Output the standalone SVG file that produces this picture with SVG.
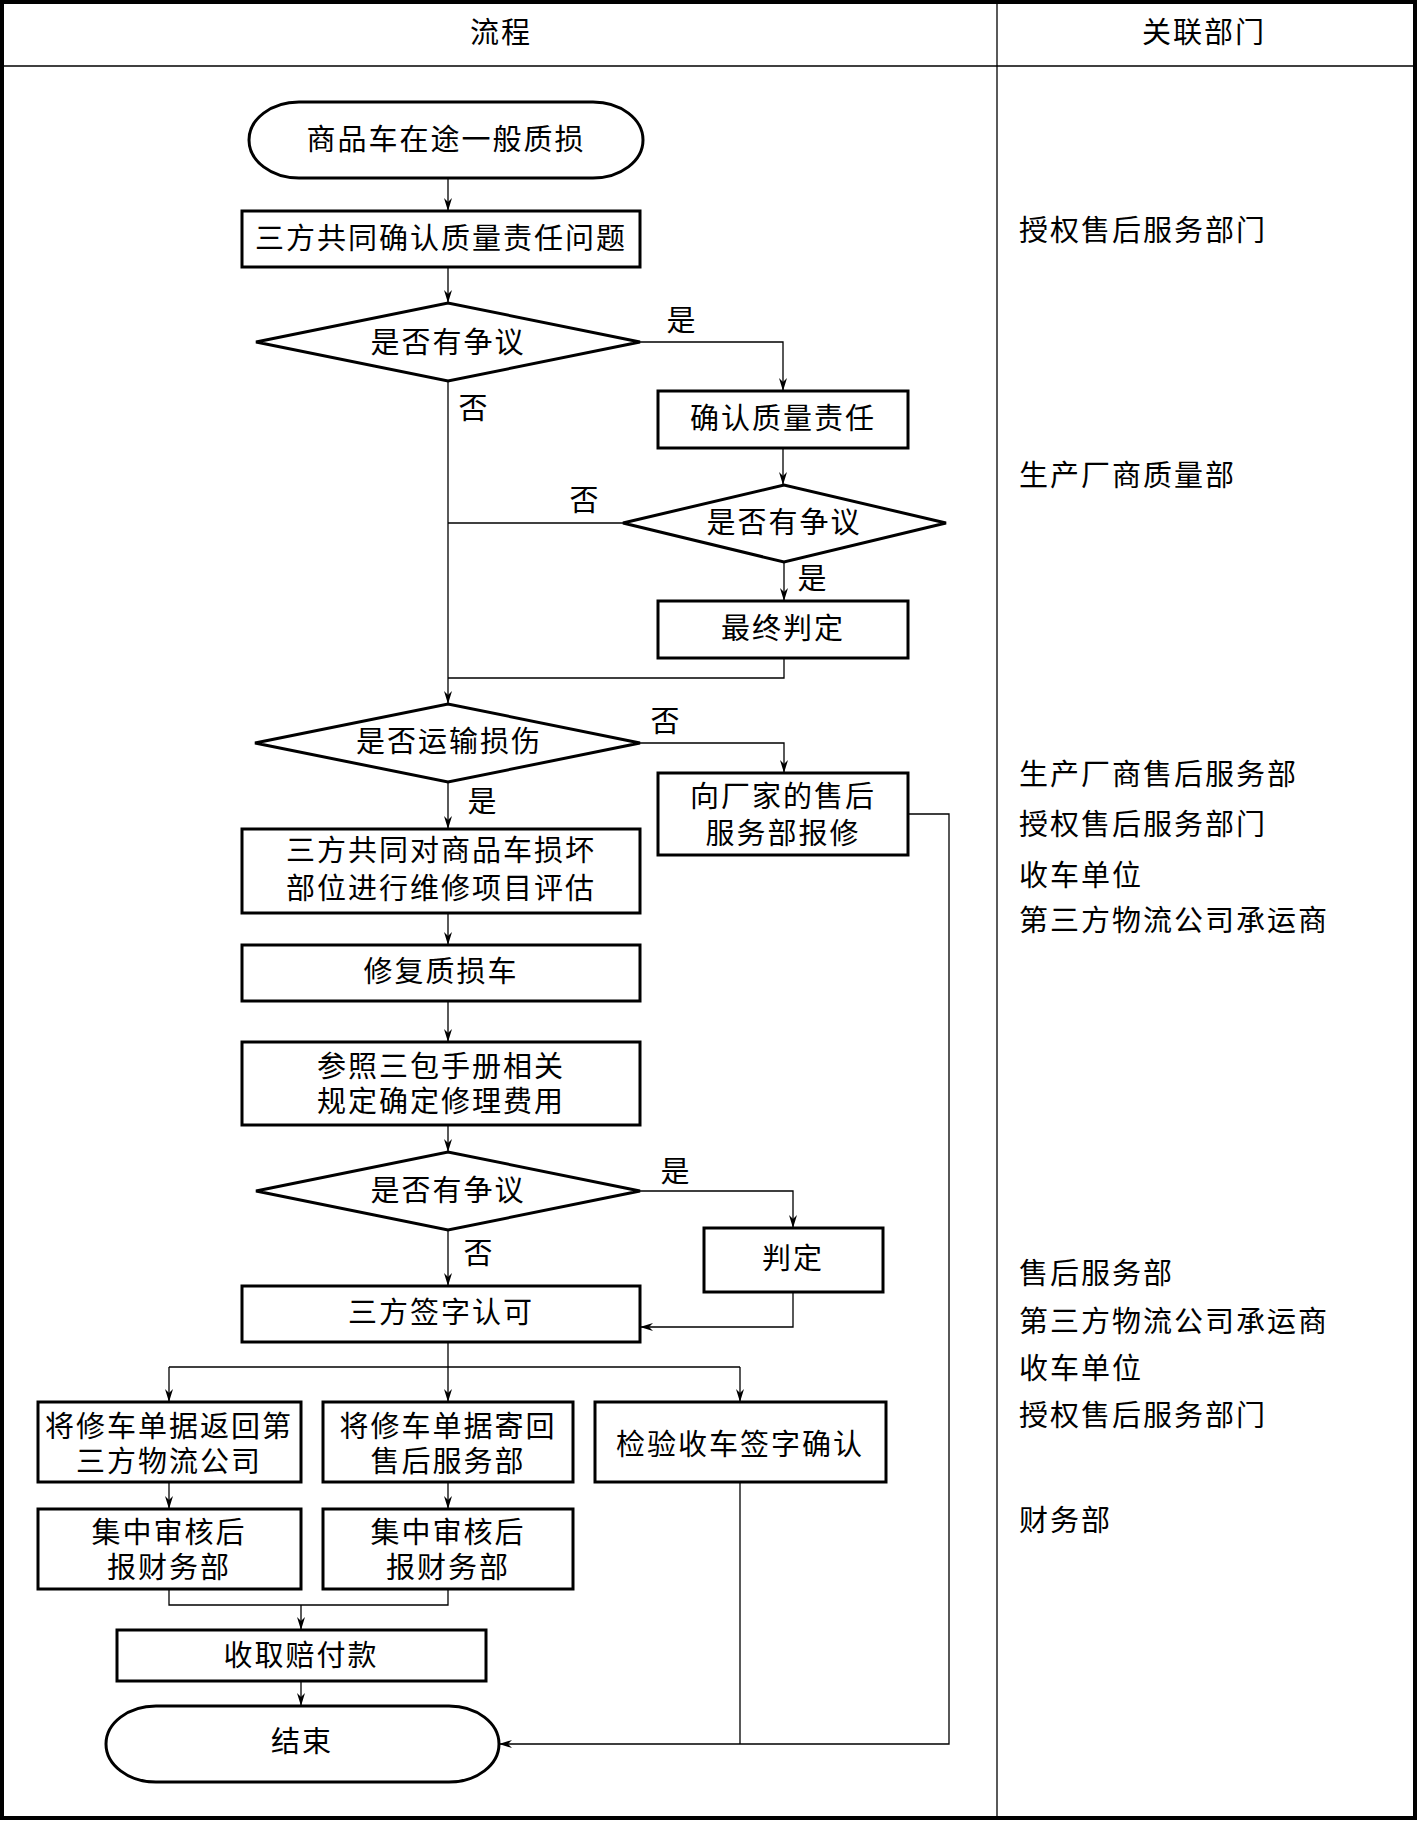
<svg xmlns="http://www.w3.org/2000/svg" width="1417" height="1821" viewBox="0 0 1417 1821">
<defs>
<style>
text{font-family:"Noto Sans CJK SC","Liberation Serif",sans-serif;font-size:29px;fill:#000;text-anchor:middle;dominant-baseline:central;letter-spacing:2px}
.l{text-anchor:start}
.n{fill:#fff;stroke:#000;stroke-width:3}
.c{fill:none;stroke:#000;stroke-width:1.3}
.a{marker-end:url(#arr)}
</style>
<marker id="arr" markerWidth="14" markerHeight="8" refX="13" refY="4" orient="auto" markerUnits="userSpaceOnUse"><path d="M0,0 L13,4 L0,8 L4,4 Z" fill="#000"/></marker>
</defs>
<rect x="0" y="0" width="1417" height="1821" fill="#fff"/>
<g id="table">
<rect x="2" y="2" width="1413" height="1816" fill="none" stroke="#000" stroke-width="4"/>
<line x1="2" y1="66" x2="1415" y2="66" stroke="#000" stroke-width="1.5"/>
<line x1="997" y1="2" x2="997" y2="1818" stroke="#000" stroke-width="1.3"/>
<text x="501" y="30">流程</text>
<text x="1204" y="30">关联部门</text>
</g>
<g id="connectors">
<path class="c a" d="M448,178 V211"/>
<path class="c a" d="M448,267 V303"/>
<path class="c a" d="M640,342 H783 V391"/>
<path class="c a" d="M448,381 V704"/>
<path class="c a" d="M783,448 V485"/>
<path class="c" d="M623,523 H448"/>
<path class="c a" d="M784,562 V601"/>
<path class="c" d="M784,658 V678 H448"/>
<path class="c a" d="M640,743 H784 V773"/>
<path class="c a" d="M448,782 V829"/>
<path class="c a" d="M448,913 V945"/>
<path class="c a" d="M448,1001 V1042"/>
<path class="c a" d="M448,1125 V1152"/>
<path class="c a" d="M640,1191 H793 V1228"/>
<path class="c a" d="M448,1230 V1286"/>
<path class="c a" d="M793,1292 V1327 H640"/>
<path class="c a" d="M448,1342 V1402"/>
<path class="c" d="M169,1367 H740"/>
<path class="c a" d="M169,1367 V1402"/>
<path class="c a" d="M740,1367 V1402"/>
<path class="c a" d="M169,1482 V1509"/>
<path class="c a" d="M448,1482 V1509"/>
<path class="c" d="M169,1589 V1605 H448 V1589"/>
<path class="c a" d="M301,1605 V1630"/>
<path class="c a" d="M301,1681 V1706"/>
<path class="c a" d="M908,814 H949 V1744 H499"/>
<path class="c" d="M740,1482 V1744"/>
<text x="682" y="318">是</text>
<text x="474" y="406">否</text>
<text x="585" y="498">否</text>
<text x="813" y="576">是</text>
<text x="666" y="719">否</text>
<text x="483" y="799">是</text>
<text x="676" y="1169">是</text>
<text x="479" y="1251">否</text>
</g>
<g id="start"><rect class="n" x="249" y="102" width="394" height="76" rx="50" ry="38"/><text x="446" y="137">商品车在途一般质损</text></g>
<g id="confirm3"><rect class="n" x="242" y="211" width="398" height="56"/><text x="441" y="236">三方共同确认质量责任问题</text></g>
<g id="dispute1"><polygon class="n" points="256,342 448,303 640,342 448,381"/><text x="448" y="340">是否有争议</text></g>
<g id="confirmQ"><rect class="n" x="658" y="391" width="250" height="57"/><text x="783" y="416">确认质量责任</text></g>
<g id="dispute2"><polygon class="n" points="623,523 784,485 946,523 784,562"/><text x="784" y="520">是否有争议</text></g>
<g id="final"><rect class="n" x="658" y="601" width="250" height="57"/><text x="783" y="626">最终判定</text></g>
<g id="transport"><polygon class="n" points="255,743 448,704 640,743 448,782"/><text x="449" y="739">是否运输损伤</text></g>
<g id="report"><rect class="n" x="658" y="773" width="250" height="82"/><text x="783" y="794">向厂家的售后</text><text x="783" y="831">服务部报修</text></g>
<g id="assess"><rect class="n" x="242" y="829" width="398" height="84"/><text x="441" y="848">三方共同对商品车损坏</text><text x="441" y="886">部位进行维修项目评估</text></g>
<g id="repair"><rect class="n" x="242" y="945" width="398" height="56"/><text x="441" y="969">修复质损车</text></g>
<g id="cost"><rect class="n" x="242" y="1042" width="398" height="83"/><text x="441" y="1064">参照三包手册相关</text><text x="441" y="1099">规定确定修理费用</text></g>
<g id="dispute3"><polygon class="n" points="256,1191 448,1152 640,1191 448,1230"/><text x="448" y="1188">是否有争议</text></g>
<g id="judge"><rect class="n" x="704" y="1228" width="179" height="64"/><text x="793" y="1256">判定</text></g>
<g id="sign"><rect class="n" x="242" y="1286" width="398" height="56"/><text x="441" y="1310">三方签字认可</text></g>
<g id="return"><rect class="n" x="38" y="1402" width="263" height="80"/><text x="169" y="1424">将修车单据返回第</text><text x="169" y="1459">三方物流公司</text></g>
<g id="send"><rect class="n" x="323" y="1402" width="250" height="80"/><text x="448" y="1424">将修车单据寄回</text><text x="448" y="1459">售后服务部</text></g>
<g id="inspect"><rect class="n" x="595" y="1402" width="291" height="80"/><text x="740" y="1442">检验收车签字确认</text></g>
<g id="audit1"><rect class="n" x="38" y="1509" width="263" height="80"/><text x="169" y="1530">集中审核后</text><text x="169" y="1565">报财务部</text></g>
<g id="audit2"><rect class="n" x="323" y="1509" width="250" height="80"/><text x="448" y="1530">集中审核后</text><text x="448" y="1565">报财务部</text></g>
<g id="collect"><rect class="n" x="117" y="1630" width="369" height="51"/><text x="301" y="1653">收取赔付款</text></g>
<g id="end"><rect class="n" x="106" y="1706" width="393" height="76" rx="50" ry="38"/><text x="302" y="1739">结束</text></g>
<g id="departments">
<text class="l" x="1019" y="228">授权售后服务部门</text>
<text class="l" x="1019" y="473">生产厂商质量部</text>
<text class="l" x="1019" y="772">生产厂商售后服务部</text>
<text class="l" x="1019" y="822">授权售后服务部门</text>
<text class="l" x="1019" y="873">收车单位</text>
<text class="l" x="1019" y="918">第三方物流公司承运商</text>
<text class="l" x="1019" y="1271">售后服务部</text>
<text class="l" x="1019" y="1319">第三方物流公司承运商</text>
<text class="l" x="1019" y="1366">收车单位</text>
<text class="l" x="1019" y="1413">授权售后服务部门</text>
<text class="l" x="1019" y="1518">财务部</text>
</g>
</svg>
